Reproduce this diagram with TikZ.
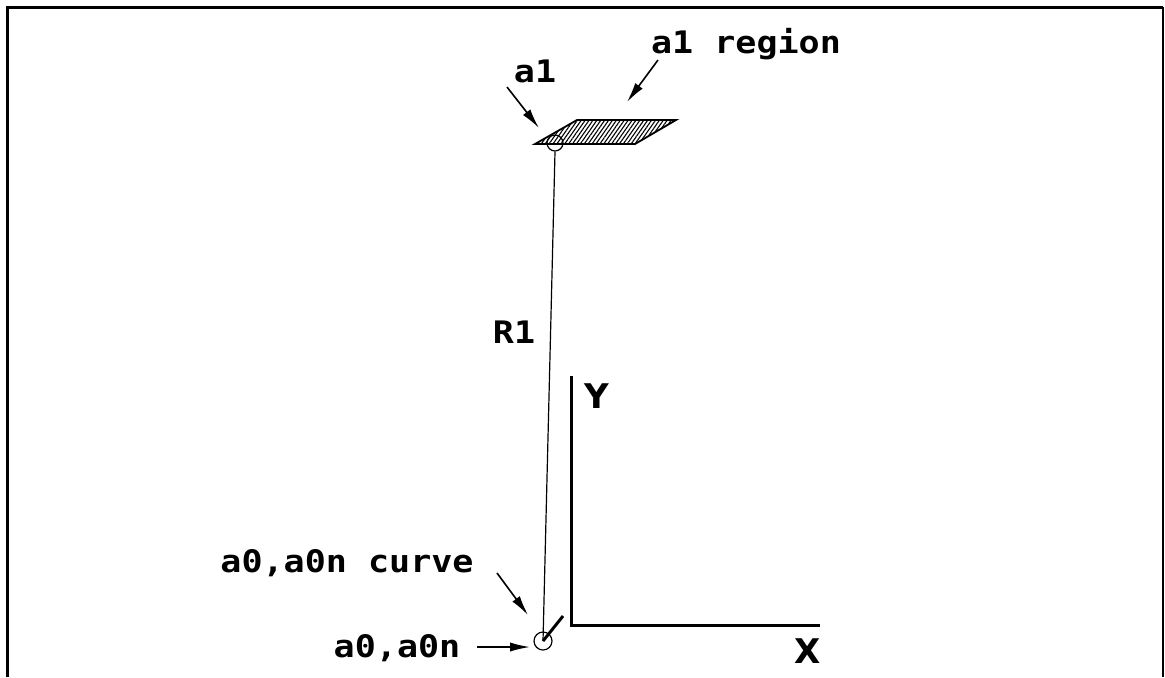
\documentclass[tikz,border=0pt]{standalone}
\usepackage{fontspec}
\newfontfamily\lblfont[FakeStretch=1.13]{DejaVu Sans Mono Bold}
\newfontfamily\axfont{DejaVu Sans Bold}
\usetikzlibrary{arrows.meta,patterns.meta}
\begin{document}
\begin{tikzpicture}[x=0.5pt,y=-0.5pt,
  lbl/.style={font=\lblfont\fontsize{15.5}{17}\selectfont, inner sep=0pt, anchor=base},
  axlbl/.style={font=\axfont\fontsize{17}{19}\selectfont, inner sep=0pt, anchor=base},
  pointer/.style={-{Latex[length=10pt,width=4.6pt]}, line width=0.8pt},
  pin/.style={circle, draw, inner sep=0pt, line width=0.6pt},
  axis/.style={line width=1.5pt}]
\useasboundingbox (0,0) rectangle (1165,677);
% frame
\draw[line width=1.5pt] (7,677) -- (7,7) -- (1163,7);
\draw[line width=0.6pt] (1163,7) -- (1163,677);
% a1 region (hatched parallelogram)
\coordinate (p1) at (535,144);
\coordinate (p2) at (635,144);
\coordinate (p3) at (676,120);
\coordinate (p4) at (577,120);
\path[draw, line width=0.9pt, pattern={Lines[angle=55,distance=1.6pt,line width=0.55pt]}]
  (p1) -- (p2) -- (p3) -- (p4) -- cycle;
% points
\node[pin, minimum size=8pt] (a1pt) at (555,143) {};
\node[pin, minimum size=9pt] (a0pt) at (543,641) {};
% R1 link
\draw[line width=0.6pt] (a1pt.south) -- (a0pt.center);
% short tick at a0
\coordinate (tickend) at (563,616);
\draw[line width=1.5pt] (a0pt.center) -- (tickend);
% axes
\coordinate (O) at (571,625);
\coordinate (Ytop) at (571,376);
\coordinate (Xend) at (820,625);
\draw[axis] (Ytop) -- (O) -- (Xend);
% labels
\node[lbl] (la1) at (535,82) {a1};
\node[lbl] (lreg) at (746,53) {a1 region};
\node[lbl] (lR1) at (514,343) {R1};
\node[lbl] (lcurve) at (347,572) {a0,a0n curve};
\node[lbl] (la0) at (397,657) {a0,a0n};
\node[axlbl] (lY) at (597,408) {Y};
\node[axlbl] (lX) at (808,663) {X};
% pointers
\coordinate (a1tail) at (507,87);
\coordinate (a1head) at (539,128);
\draw[pointer] (a1tail) -- (a1head);
\coordinate (regtail) at (658,60);
\coordinate (reghead) at (627,102);
\draw[pointer] (regtail) -- (reghead);
\coordinate (crvtail) at (497,573);
\coordinate (crvhead) at (528,615);
\draw[pointer] (crvtail) -- (crvhead);
\coordinate (a0tail) at (477,647);
\coordinate (a0head) at (530,647);
\draw[pointer] (a0tail) -- (a0head);
\end{tikzpicture}
\end{document}
